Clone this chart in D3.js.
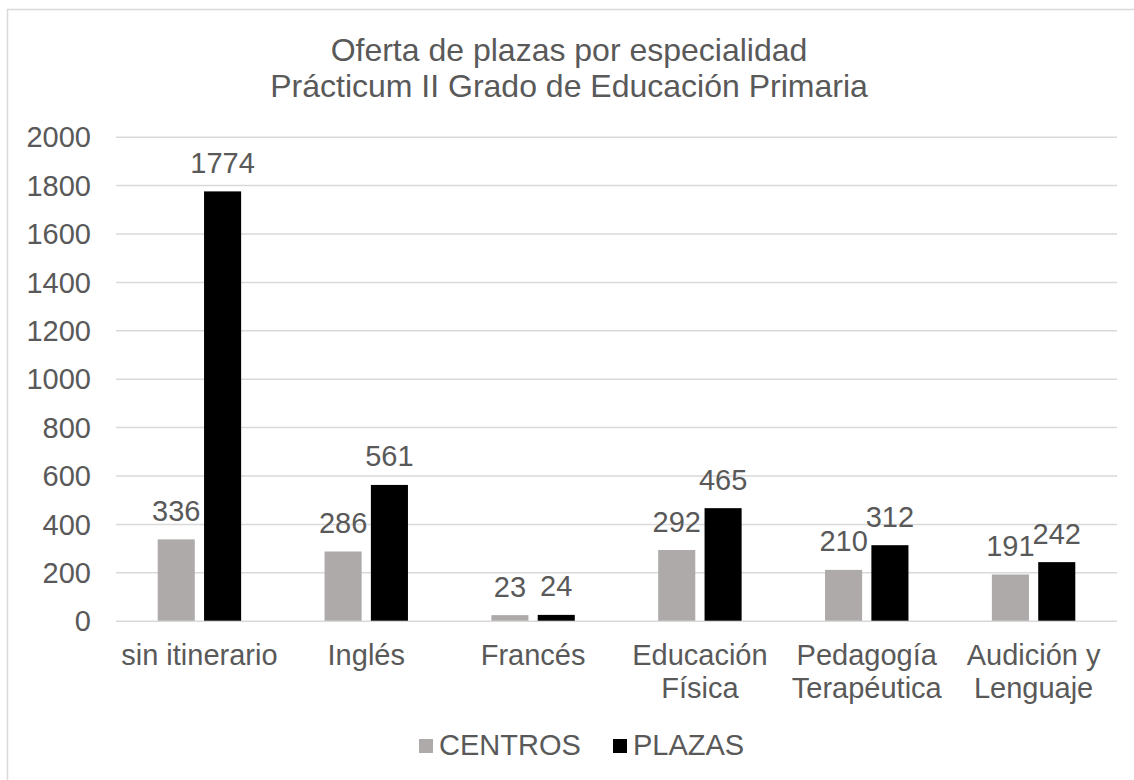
<!DOCTYPE html>
<html>
<head>
<meta charset="utf-8">
<script src="https://cdn.jsdelivr.net/npm/d3@7"></script>
<style>
  body { margin: 0; background: #fff; }
  text { font-family: "Liberation Sans", Arial, sans-serif; fill: #595959; }
</style>
</head>
<body>
<svg id="chart" width="1134" height="780"></svg>
<script>
const categories = ['sin itinerario', 'Inglés', 'Francés', 'Educación Física', 'Pedagogía Terapéutica', 'Audición y Lenguaje'];
const seriesNames = ['CENTROS', 'PLAZAS'];
const centros = [336, 286, 23, 292, 210, 191];
const plazas = [1774, 561, 24, 465, 312, 242];
const yTicks = [0, 200, 400, 600, 800, 1000, 1200, 1400, 1600, 1800, 2000];
const titleLines = ['Oferta de plazas por especialidad', 'Prácticum II Grado de Educación Primaria'];

const colors = { CENTROS: '#aeaaaa', PLAZAS: '#000000' };

const svg = d3.select('#chart');
const plot = { left: 116, right: 1117, top: 136.7, bottom: 620.7 };

// chart area border (runs off the right/bottom edge)
svg.append('rect')
  .attr('x', 7.5).attr('y', 9.5)
  .attr('width', 1200).attr('height', 900)
  .style('fill', 'none')
  .style('stroke', '#d9d9d9')
  .style('stroke-width', 1.5);

// title
svg.append('g')
  .selectAll('text')
  .data(titleLines)
  .enter()
  .append('text')
  .attr('x', 569)
  .attr('y', (d, i) => 61 + i * 36)
  .style('text-anchor', 'middle')
  .style('font-size', '32px')
  .text(d => d);

const rows = categories.map((c, i) => ({ cat: c, CENTROS: centros[i], PLAZAS: plazas[i] }));

const x0 = d3.scaleBand()
  .domain(categories)
  .range([plot.left, plot.right])
  .paddingInner(0.5)
  .paddingOuter(0.25);

const x1 = d3.scaleBand()
  .domain(seriesNames)
  .range([0, x0.bandwidth()])
  .paddingInner(0.2);

const y = d3.scaleLinear()
  .domain([0, 2000])
  .range([plot.bottom, plot.top]);

// gridlines + y tick labels
const yAxis = svg.append('g')
  .attr('transform', `translate(${plot.left},0)`)
  .call(d3.axisLeft(y).tickValues(yTicks).tickFormat(d3.format('d'))
    .tickSize(-(plot.right - plot.left)).tickPadding(25));
yAxis.select('.domain').remove();
yAxis.selectAll('line').style('stroke', '#d9d9d9').style('stroke-width', 1.5);
yAxis.selectAll('text')
  .attr('dy', '0.35em')
  .style('font-size', '29px')
  .style('font-family', '"Liberation Sans", Arial, sans-serif')
  .style('fill', '#595959');

// bars
const groups = svg.append('g')
  .selectAll('g')
  .data(rows)
  .enter()
  .append('g')
  .attr('transform', d => `translate(${x0(d.cat)},0)`);

groups.selectAll('rect')
  .data(d => seriesNames.map(s => ({ s, v: d[s] })))
  .enter()
  .append('rect')
  .attr('x', d => x1(d.s))
  .attr('y', d => y(d.v))
  .attr('width', x1.bandwidth())
  .attr('height', d => y(0) - y(d.v))
  .style('fill', d => colors[d.s]);

groups.selectAll('text.val')
  .data(d => seriesNames.map(s => ({ s, v: d[s] })))
  .enter()
  .append('text')
  .attr('class', 'val')
  .attr('x', d => x1(d.s) + x1.bandwidth() / 2)
  .attr('y', d => y(d.v) - 18.5)
  .style('text-anchor', 'middle')
  .style('font-size', '29px')
  .text(d => d.v);

// category labels, wrapped to the band
const xAxis = svg.append('g')
  .attr('transform', `translate(0,${plot.bottom})`)
  .call(d3.axisBottom(x0).tickSize(0).tickPadding(0));
xAxis.select('.domain').remove();
xAxis.selectAll('text')
  .attr('y', 44)
  .attr('dy', 0)
  .style('font-size', '29px')
  .style('font-family', '"Liberation Sans", Arial, sans-serif')
  .style('fill', '#595959')
  .each(function(d) {
    const t = d3.select(this);
    const words = d.split(' ');
    t.text(null);
    let line = [];
    let lineNo = 0;
    let tspan = t.append('tspan').attr('x', 0).attr('y', 44);
    words.forEach(w => {
      line.push(w);
      tspan.text(line.join(' '));
      if (tspan.node().getComputedTextLength() > 162 && line.length > 1) {
        line.pop();
        tspan.text(line.join(' '));
        line = [w];
        lineNo++;
        tspan = t.append('tspan').attr('x', 0).attr('y', 44 + lineNo * 33).text(w);
      }
    });
  });

// legend
const legend = svg.append('g');
const legendItems = [
  { name: 'CENTROS', x: 419 },
  { name: 'PLAZAS', x: 613 }
];
legendItems.forEach(it => {
  legend.append('rect')
    .attr('x', it.x).attr('y', 739)
    .attr('width', 14).attr('height', 14)
    .style('fill', colors[it.name]);
  legend.append('text')
    .attr('x', it.x + 20).attr('y', 755)
    .style('font-size', '29px')
    .text(it.name);
});
</script>
</body>
</html>
